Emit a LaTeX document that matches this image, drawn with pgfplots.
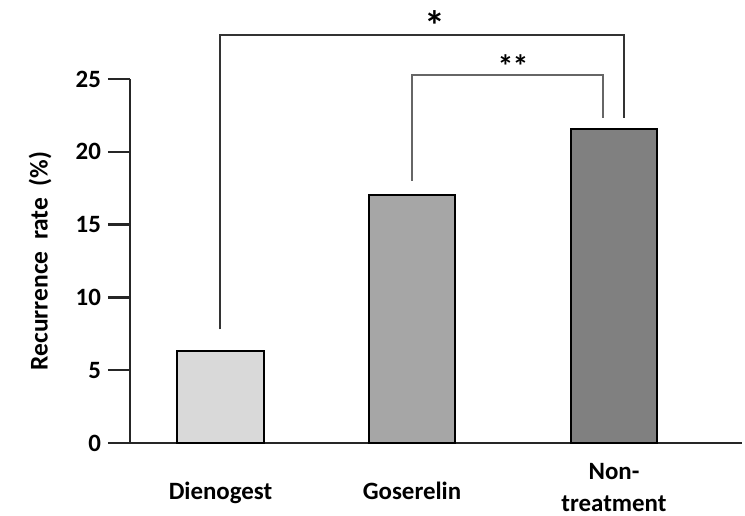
\documentclass[border=0pt]{standalone}
\usepackage{fontspec}
\setmainfont{Carlito}
\usepackage{pgfplots}
\pgfplotsset{compat=1.18}
\definecolor{cA}{HTML}{D9D9D9}
\definecolor{cB}{HTML}{A6A6A6}
\definecolor{cC}{HTML}{808080}
\begin{document}
\begin{tikzpicture}
\useasboundingbox (-65bp,-36.5bp) rectangle (307.5bp,221.5bp);
\begin{axis}[
  scale only axis, width=306bp, height=182bp,
  xmin=130, xmax=742, ymin=0, ymax=25,
  axis x line=bottom, axis y line=left,
  axis line style={-, line width=1.2bp, black!85},
  clip=false,
  xtick={220.5,412,614},
  xticklabels={Dienogest, Goserelin, {\raisebox{2bp}{\renewcommand\arraystretch{1.0}\begin{tabular}[c]{@{}c@{}}Non-\\treatment\end{tabular}}}},
  x tick style={draw=none},
  xticklabel style={anchor=base, yshift=-17bp, font=\fontsize{12.5}{16}\selectfont\bfseries},
  ytick={0,5,10,15,20,25},
  y tick style={line width=1.2bp, black!85},
  tick align=outside, major tick length=11bp,
  yticklabel style={font=\fontsize{12.5}{14}\selectfont\bfseries},
  /pgf/number format/assume math mode=true,
  ylabel={Recurrence\ \ rate\ \ (\%)},
  every axis y label/.style={at={([xshift=-45bp]axis description cs:0,0.5)}, rotate=90, anchor=center, font=\fontsize{12.8}{14}\selectfont\bfseries},
]
\addplot[ybar, bar width=86, fill=cA, draw=black, line width=1bp] coordinates {(220.5,6.3)};
\addplot[ybar, bar width=86, fill=cB, draw=black, line width=1bp] coordinates {(412,17.0)};
\addplot[ybar, bar width=86, fill=cC, draw=black, line width=1bp] coordinates {(614,21.6)};
\draw[black!80, line width=1bp] (axis cs:220.5,7.8) |- (axis cs:624,28.0) -- (axis cs:624,22.3);
\draw[black!60, line width=0.9bp] (axis cs:412,18.0) |- (axis cs:603,25.3) -- (axis cs:603,22.3);
\node[font=\fontsize{21}{21}\selectfont\bfseries] at (axis cs:435,28.7) {*};
\node[font=\fontsize{16}{16}\selectfont\bfseries, inner sep=0pt] at (axis cs:513,25.9) {*\kern-0.5pt*};
\end{axis}
\end{tikzpicture}
\end{document}
